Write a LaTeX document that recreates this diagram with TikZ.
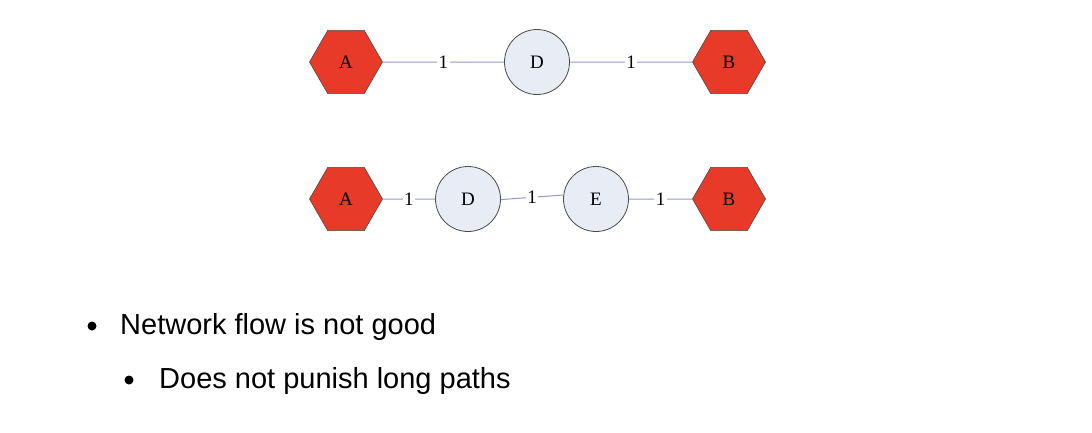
\documentclass[tikz,border=0pt]{standalone}
\usepackage{fontspec}
\setmainfont{Liberation Serif}
\setsansfont{Liberation Sans}
\usetikzlibrary{shapes.geometric}
\definecolor{hexred}{HTML}{E83A28}
\definecolor{circfill}{HTML}{E8ECF5}
\definecolor{edgeblue}{HTML}{8E9BC8}
\definecolor{outl}{HTML}{4A4A4A}
\tikzset{
  hexnode/.style={regular polygon, regular polygon sides=6, minimum size=73pt, inner sep=0pt,
    fill=hexred, draw=outl, line width=0.6pt, font=\fontsize{19}{19}\selectfont},
  circnode/.style={circle, minimum size=65pt, inner sep=0pt, fill=circfill, draw=outl,
    line width=0.8pt, font=\fontsize{19}{19}\selectfont},
  edge/.style={draw=edgeblue, line width=1pt},
  lbl/.style={fill=white, inner sep=1.5pt, font=\fontsize{19}{19}\selectfont},
  bullettext/.style={anchor=base west, inner sep=0pt, font=\sffamily\fontsize{29}{29}\selectfont},
  bulletdot/.style={circle, fill=black, inner sep=0pt, minimum size=9pt}
}
\begin{document}
\begin{tikzpicture}[x=1pt,y=-1pt]
\useasboundingbox[fill=white] (0,0) rectangle (1092,432);
% top row
\node[hexnode] (A1) at (346,62) {A};
\node[circnode] (D1) at (537,62) {D};
\node[hexnode] (B1) at (729,62) {B};
\draw[edge] (A1) -- node[lbl] {1} (D1);
\draw[edge] (D1) -- node[lbl] {1} (B1);
% bottom row
\node[hexnode] (A2) at (346,199) {A};
\node[circnode] (D2) at (468,199) {D};
\node[circnode] (E2) at (596,199) {E};
\node[hexnode] (B2) at (729,199) {B};
\draw[edge] (A2) -- node[lbl] {1} (D2);
\draw[edge] (D2.-1) -- node[lbl] {1} (E2.173);
\draw[edge] (E2) -- node[lbl] {1} (B2);
% bullets
\node[bulletdot] (b1) at (92,326) {};
\node[bullettext] (t1) at (120,334) {Network flow is not good};
\node[bulletdot] (b2) at (129,380) {};
\node[bullettext] (t2) at (159,388) {Does not punish long paths};
\end{tikzpicture}
\end{document}
